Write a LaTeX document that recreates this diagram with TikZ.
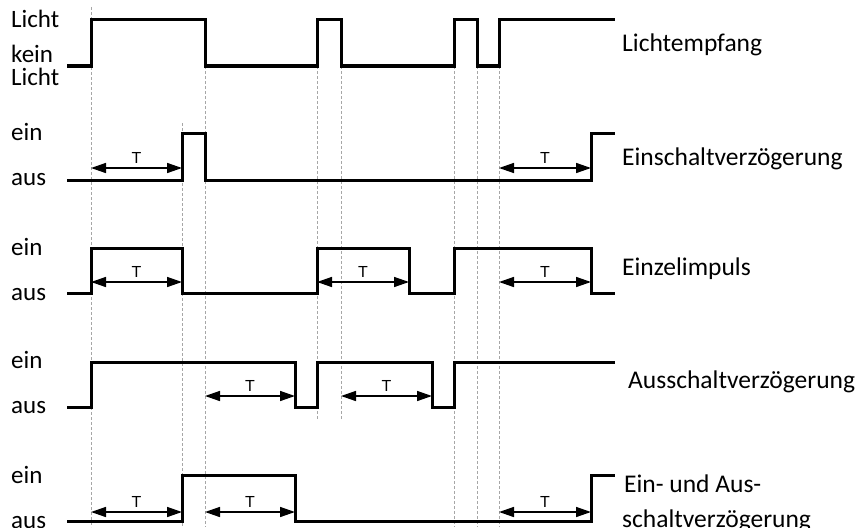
\documentclass[tikz,border=0pt]{standalone}
\usepackage{fontspec}
\setmainfont{Carlito}
\newfontfamily\tfont{Liberation Sans}
\usetikzlibrary{arrows.meta}
\begin{document}
\begin{tikzpicture}[x=1pt,y=-1pt,
  sig/.style={line width=3pt,line join=miter,line cap=rect},
  guide/.style={gray!70,line width=0.6pt,dash pattern=on 3pt off 2pt},
  tarrow/.style={line width=1.5pt,{Triangle[length=15pt,width=10pt]}-{Triangle[length=15pt,width=10pt]}},
  lvltext/.style={anchor=base west,inner sep=0pt,font=\fontsize{25}{27}\selectfont},
  signame/.style={anchor=base west,inner sep=0pt,font=\fontsize{25.5}{27}\selectfont},
  tlab/.style={anchor=base,inner sep=0pt,font=\tfont\fontsize{16}{17}\selectfont}]
\useasboundingbox (0,0) rectangle (856,527);

% vertical guide lines at the switching instants
\draw[guide] (91,7) -- (91,527);
\draw[guide] (182,123) -- (182,527);
\draw[guide] (205,66) -- (205,527);
\draw[guide] (317,66) -- (317,419);
\draw[guide] (341,66) -- (341,419);
\draw[guide] (454,66) -- (454,527);
\draw[guide] (477,66) -- (477,527);
\draw[guide] (499,66) -- (499,527);

% Lichtempfang
\draw[sig] (68,66) -- (91,66) -- (91,20) -- (205,20) -- (205,66) -- (317,66) -- (317,20) -- (341,20) -- (341,66)
  -- (454,66) -- (454,20) -- (477,20) -- (477,66) -- (499,66) -- (499,20) -- (613,20);
% Einschaltverzoegerung
\draw[sig] (68,180) -- (182,180) -- (182,133) -- (205,133) -- (205,180) -- (591,180) -- (591,133) -- (613,133);
% Einzelimpuls
\draw[sig] (68,293) -- (91,293) -- (91,248) -- (182,248) -- (182,293) -- (317,293) -- (317,248) -- (409,248)
  -- (409,293) -- (454,293) -- (454,248) -- (591,248) -- (591,293) -- (613,293);
% Ausschaltverzoegerung
\draw[sig] (68,407) -- (91,407) -- (91,362) -- (295,362) -- (295,407) -- (317,407) -- (317,362) -- (432,362)
  -- (432,407) -- (454,407) -- (454,362) -- (613,362);
% Ein- und Ausschaltverzoegerung
\draw[sig] (68,521) -- (182,521) -- (182,475) -- (295,475) -- (295,521) -- (591,521) -- (591,475) -- (613,475);

% delay times T
\foreach \a/\b/\y in {91/182/168, 499/591/168,
                      91/182/282, 317/409/282, 499/591/282,
                      205/295/396, 341/432/396,
                      91/182/512, 205/295/512, 499/591/512}{
  \draw[tarrow] (\a,\y) -- (\b,\y);
  \node[tlab] at ({(\a+\b)/2},\y-5) {T};
}

% level labels
\node[lvltext] (l1) at (11,28) {Licht};
\node[lvltext] (l2) at (11,63) {kein};
\node[lvltext] (l3) at (11,85) {Licht};
\node[lvltext] (e2) at (11,140) {ein};
\node[lvltext] (a2) at (11,185) {aus};
\node[lvltext] (e3) at (11,255) {ein};
\node[lvltext] (a3) at (11,300) {aus};
\node[lvltext] (e4) at (11,368) {ein};
\node[lvltext] (a4) at (11,413) {aus};
\node[lvltext] (e5) at (11,483) {ein};
\node[lvltext] (a5) at (11,528) {aus};

% signal names
\node[signame] (n1) at (622,52) {Lichtempfang};
\node[signame] (n2) at (622,165) {Einschaltverzögerung};
\node[signame] (n3) at (622,275) {Einzelimpuls};
\node[signame] (n4) at (628,388) {Ausschaltverzögerung};
\node[signame] (n5) at (624,492) {Ein- und Aus-};
\node[signame] (n6) at (622,527) {schaltverzögerung};
\end{tikzpicture}
\end{document}
